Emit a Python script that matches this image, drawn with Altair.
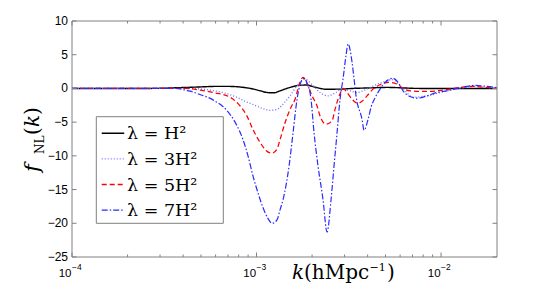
import altair as alt
import pandas as pd

# ---- data ----
k_1 = [1.0e-4, 2.65e-4, 3.85e-4, 4.94e-4, 5.96e-4, 7.01e-4, 8.35e-4, 9.45e-4, 1.045e-3, 1.154e-3,
       1.244e-3, 1.341e-3, 1.519e-3, 1.721e-3, 1.855e-3, 2.101e-3, 2.381e-3, 2.835e-3, 3.334e-3,
       4.123e-3, 5.098e-3, 7.694e-3, 2.01e-2]
f_1 = [0, 0, 0.12, 0.22, 0.30, 0.30, 0.18, -0.05, -0.35, -0.62, -0.65, -0.35, 0.15, 0.48, 0.50,
       0.15, -0.12, -0.10, 0.0, 0.08, 0.15, 0.0, 0.0]

k_3 = [1.0e-4, 4.36e-4, 5.60e-4, 6.75e-4, 7.65e-4, 8.66e-4, 9.81e-4, 1.085e-3, 1.183e-3, 1.291e-3,
       1.427e-3, 1.519e-3, 1.658e-3, 1.832e-3, 2.024e-3, 2.209e-3, 2.441e-3, 2.697e-3, 2.907e-3,
       3.212e-3, 3.506e-3, 3.825e-3, 4.123e-3, 4.789e-3, 5.426e-3, 6.147e-3, 7.051e-3, 8.399e-3,
       1.078e-2, 1.268e-2, 1.491e-2, 1.775e-2, 2.01e-2]
f_3 = [0, 0, -0.25, -0.7, -1.2, -1.9, -2.5, -3.0, -3.25, -3.1, -2.0, -1.1, 0.4, 1.35, 0.4, -0.6,
       -1.1, -0.6, -0.1, -0.35, -0.6, -0.3, 0.15, 0.9, 1.3, 0.15, -1.3, -1.1, -0.35, 0.0, 0.3,
       0.15, 0.05]

k_5 = [1.0e-4, 4.20e-4, 4.94e-4, 5.81e-4, 7.18e-4, 8.14e-4, 8.88e-4, 9.57e-4, 1.045e-3, 1.126e-3,
       1.213e-3, 1.291e-3, 1.341e-3, 1.427e-3, 1.519e-3, 1.617e-3, 1.721e-3, 1.786e-3, 1.901e-3,
       1.999e-3, 2.128e-3, 2.209e-3, 2.381e-3, 2.566e-3, 2.664e-3, 2.765e-3, 2.835e-3, 2.943e-3,
       3.055e-3, 3.293e-3, 3.549e-3, 3.731e-3, 3.971e-3, 4.280e-3, 4.671e-3, 5.161e-3, 5.775e-3,
       6.223e-3, 6.792e-3, 8.399e-3, 1.025e-2, 1.268e-2, 1.491e-2, 1.913e-2, 2.01e-2]
f_5 = [0, 0, -0.25, -0.6, -1.3, -2.6, -4.1, -6.1, -8.0, -9.2, -9.6, -9.0, -7.6, -5.1, -3.1, -1.6,
       0.9, 1.64, 0.4, -1.1, -2.6, -4.1, -5.3, -4.8, -3.1, -1.6, -0.8, 0.0, -0.4, -1.6, -2.2, -1.9,
       -1.1, -0.1, 0.55, 0.9, 0.65, 0.0, -0.35, -0.45, -0.25, 0.15, 0.3, 0.05, 0.03]

k_7 = [1.0e-4, 3.53e-4, 4.36e-4, 4.94e-4, 5.81e-4, 6.92e-4, 7.65e-4, 8.45e-4, 8.99e-4, 9.57e-4,
       1.019e-3, 1.085e-3, 1.154e-3, 1.213e-3, 1.291e-3, 1.341e-3, 1.392e-3, 1.501e-3, 1.577e-3,
       1.658e-3, 1.743e-3, 1.809e-3, 1.878e-3, 1.974e-3, 2.050e-3, 2.154e-3, 2.293e-3, 2.411e-3,
       2.534e-3, 2.630e-3, 2.731e-3, 2.835e-3, 2.943e-3, 3.055e-3, 3.133e-3, 3.293e-3, 3.377e-3,
       3.462e-3, 3.731e-3, 3.825e-3, 4.021e-3, 4.174e-3, 4.388e-3, 4.671e-3, 4.972e-3, 5.493e-3,
       5.847e-3, 6.223e-3, 6.792e-3, 7.412e-3, 8.399e-3, 9.513e-3, 1.078e-2, 1.221e-2, 1.383e-2,
       1.529e-2, 1.775e-2, 2.01e-2]
f_7 = [0, 0, -0.4, -0.9, -1.7, -3.3, -5.0, -7.6, -10.0, -13.0, -15.5, -17.7, -19.3, -20.0, -19.5,
       -18.0, -16.5, -11.5, -6.6, -1.6, 1.0, 1.5, 0.8, -1.6, -6.6, -11.5, -16.5, -21.3, -16.5,
       -11.5, -6.6, -1.6, 1.4, 4.9, 6.6, 3.9, 1.4, -1.1, -4.6, -6.2, -4.6, -2.8, -1.4, -0.1, 0.9,
       1.5, 0.9, -0.35, -1.2, -1.45, -1.1, -0.6, -0.35, 0.0, 0.3, 0.45, 0.3, 0.1]

series_names = ["λ = H²", "λ = 3H²", "λ = 5H²", "λ = 7H²"]
series_colors = ["#000000", "#7070ff", "#ff0000", "#2a2aff"]
series_dashes = [[1, 0], [1, 2], [5, 3], [6, 2, 1.5, 2]]
series_widths = [1.4, 1.2, 1.3, 1.2]

x_major = [1e-4, 1e-3, 1e-2]
x_exp = ["−4", "−3", "−2"]
x_minor = [2e-4, 3e-4, 4e-4, 5e-4, 6e-4, 7e-4, 8e-4, 9e-4,
           2e-3, 3e-3, 4e-3, 5e-3, 6e-3, 7e-3, 8e-3, 9e-3]
y_ticks = [-25, -20, -15, -10, -5, 0, 5, 10]
y_labels = ["−25", "−20", "−15", "−10", "−5", "0", "5", "10"]

# ---- build tables ----
rows = []
for name, ks, fs in zip(series_names, [k_1, k_3, k_5, k_7], [f_1, f_3, f_5, f_7]):
    for k, f in zip(ks, fs):
        rows.append({"k": k, "f": f, "series": name})
df = pd.DataFrame(rows)
xmaj_df = pd.DataFrame({"k": x_major, "exp": x_exp})
xmin_df = pd.DataFrame({"k": x_minor})
yt_df = pd.DataFrame({"f": y_ticks, "lab": y_labels})
one = pd.DataFrame({"a": [0]})

W, H = 425, 236
AX = "#808080"
xs = alt.Scale(type="log", domain=[1e-4, 2.01e-2], nice=False)
ys = alt.Scale(domain=[-25, 10], nice=False, zero=False)

lines = alt.Chart(df).mark_line(interpolate="monotone", clip=True).encode(
    x=alt.X("k:Q", scale=xs, axis=None),
    y=alt.Y("f:Q", scale=ys, axis=None),
    color=alt.Color("series:N", scale=alt.Scale(domain=series_names, range=series_colors), legend=None),
    strokeDash=alt.StrokeDash("series:N", scale=alt.Scale(domain=series_names, range=series_dashes), legend=None),
    strokeWidth=alt.StrokeWidth("series:N", scale=alt.Scale(domain=series_names, range=series_widths), legend=None),
    detail="series:N",
)

# legend (drawn as marks so the fonts can be controlled)
LX0, LX1, LY0, LY1 = 24.3, 151.3, 95.7, 202.3
legend_box = alt.Chart(one).mark_rect(fill="white", stroke=AX, strokeWidth=1).encode(
    x=alt.value(LX0), x2=alt.value(LX1), y=alt.value(LY0), y2=alt.value(LY1))
legend_items = []
for i, (name, col, dash, wd) in enumerate(zip(series_names, series_colors, series_dashes, series_widths)):
    ry = 112.3 + i * 25.6
    legend_items.append(alt.Chart(one).mark_rule(color=col, strokeDash=dash, strokeWidth=wd + 0.2).encode(
        x=alt.value(29.7), x2=alt.value(52.2), y=alt.value(ry)))
    legend_items.append(alt.Chart(one).mark_text(text=name, align="left", baseline="middle",
                                                 font="DejaVu Serif", fontSize=17.5, color="black").encode(
        x=alt.value(55), y=alt.value(ry + 1)))

frame = alt.Chart(one).mark_rect(fill=None, fillOpacity=0, stroke=AX, strokeWidth=1).encode(
    x=alt.value(0), x2=alt.value(W), y=alt.value(0), y2=alt.value(H))

def xtick(data, y0, y1):
    return alt.Chart(data).mark_rule(color=AX, strokeWidth=1).encode(
        x=alt.X("k:Q", scale=xs, axis=None), y=alt.value(y0), y2=alt.value(y1))

def ytick(x0, x1):
    return alt.Chart(yt_df).mark_rule(color=AX, strokeWidth=1).encode(
        y=alt.Y("f:Q", scale=ys, axis=None), x=alt.value(x0), x2=alt.value(x1))

ticks = [xtick(xmaj_df, H, H - 4.5), xtick(xmaj_df, 0, 4.5),
         xtick(xmin_df, H, H - 2.5), xtick(xmin_df, 0, 2.5),
         ytick(0, 4.5), ytick(W - 4.5, W)]

ylab = alt.Chart(yt_df).mark_text(align="right", baseline="middle", font="Liberation Sans",
                                  fontSize=12, color="black").encode(
    y=alt.Y("f:Q", scale=ys, axis=None), x=alt.value(-4), text="lab:N")

xlab_base = alt.Chart(xmaj_df).mark_text(align="right", baseline="alphabetic", font="Liberation Sans",
                                          fontSize=11.5, color="black", dx=-0.5).encode(
    x=alt.X("k:Q", scale=xs, axis=None), y=alt.value(H + 19.5), text=alt.value("10"))
xlab_exp = alt.Chart(xmaj_df).mark_text(align="left", baseline="alphabetic", font="Liberation Sans",
                                         fontSize=8.5, color="black").encode(
    x=alt.X("k:Q", scale=xs, axis=None), y=alt.value(H + 13), text="exp:N")

def label(txt, x, y, size, style="normal", angle=0):
    return alt.Chart(one).mark_text(text=txt, align="left", baseline="alphabetic", font="DejaVu Serif",
                                    fontSize=size, fontStyle=style, color="black", angle=angle).encode(
        x=alt.value(x), y=alt.value(y))

xtitle = [label("k", 220, H + 22.3, 20, "italic"),
          label("(hMpc", 232, H + 22.3, 20),
          label("−1", 297.5, H + 13.5, 11),
          label(")", 315, H + 22.3, 20)]
ytitle = [label("f", -33, 151, 21, "italic", 270),
          label("NL", -28, 133, 12, "normal", 270),
          label("(", -33, 114, 20, "normal", 270),
          label("k", -33, 106, 20, "italic", 270),
          label(")", -33, 94, 20, "normal", 270)]

chart = alt.layer(lines, legend_box, *legend_items, frame, *ticks, ylab, xlab_base, xlab_exp,
                  *xtitle, *ytitle).properties(
    width=W, height=H, autosize="none",
    padding={"left": 64, "top": 13, "right": 40, "bottom": 33},
).configure_view(stroke=None)

chart.save("out.html", embed_options={"renderer": "svg", "actions": False})
